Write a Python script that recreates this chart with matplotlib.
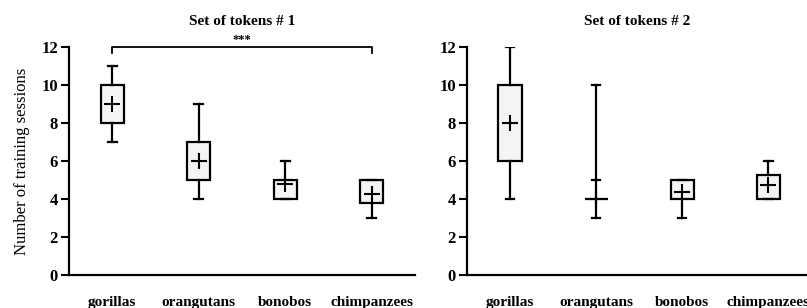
from matplotlib import pyplot as plt

species = ["gorillas", "orangutans", "bonobos", "chimpanzees"]

# set of tokens #1
lo1 = [7, 4, 4, 3]
q1_1 = [8, 5, 4, 3.78]
q3_1 = [10, 7, 5, 5]
hi1 = [11, 9, 6, 5]
mean1 = [9, 6, 4.8, 4.25]

# set of tokens #2
lo2 = [4, 3, 3, 4]
q1_2 = [6, 4, 4, 4]
q3_2 = [10, 4, 5, 5.27]
hi2 = [12, 10, 5, 6]
mean2 = [8, 4, 4.38, 4.73]
extra2 = [None, 5, None, None]

plt.rcParams['font.family'] = ['Liberation Serif', 'DejaVu Serif']

fig = plt.figure(figsize=(8.07, 3.08), dpi=100)
ax1 = fig.add_axes([0.0855, 0.107, 0.4288, 0.739])
ax2 = fig.add_axes([0.5787, 0.107, 0.4213, 0.739])


def draw(ax, lo, q1, q3, hi, mean, title, xmax):
    stats = []
    for i in range(len(species)):
        stats.append(dict(med=mean[i], q1=q1[i], q3=q3[i],
                          whislo=lo[i], whishi=hi[i], mean=mean[i],
                          fliers=[]))
    pos = list(range(1, len(species) + 1))
    ax.bxp(stats, positions=pos, widths=0.27, capwidths=0.1,
           showmeans=True, patch_artist=True,
           boxprops=dict(facecolor='#f4f4f4', edgecolor='black', linewidth=1.6),
           whiskerprops=dict(color='black', linewidth=1.6),
           capprops=dict(color='black', linewidth=1.6),
           medianprops=dict(visible=False),
           meanprops=dict(marker='+', markersize=11.5, markeredgecolor='black',
                          markeredgewidth=1.5))
    ax.set_xlim(0.5, xmax)
    ax.set_ylim(0, 12)
    ax.set_yticks(range(0, 13, 2))
    ax.set_xticks(pos)
    ax.set_xticklabels(species, fontweight='bold', fontsize=11)
    for lab in ax.get_yticklabels():
        lab.set_fontweight('bold')
        lab.set_fontsize(12)
    ax.tick_params(axis='x', length=0, pad=15)
    ax.tick_params(axis='y', length=6, width=1.5, direction='out', pad=2)
    for s in ['top', 'right']:
        ax.spines[s].set_visible(False)
    for s in ['left', 'bottom']:
        ax.spines[s].set_linewidth(1.6)
    ax.set_title(title, fontweight='bold', fontsize=11, pad=16)


draw(ax1, lo1, q1_1, q3_1, hi1, mean1, "Set of tokens # 1", 4.5)
draw(ax2, lo2, q1_2, q3_2, hi2, mean2, "Set of tokens # 2", 4.45)

for i, v in enumerate(extra2):
    if v is not None:
        ax2.plot([i + 1 - 0.05, i + 1 + 0.05], [v, v], color='black', lw=1.6)

ax1.set_ylabel("Number of training sessions", fontsize=12, labelpad=8)

# significance bracket gorillas vs chimpanzees
ax1.plot([1, 1, 4, 4], [11.7, 12, 12, 11.7], color='black', lw=1.3, clip_on=False)
ax1.text(2.5, 12.1, "***", ha='center', va='bottom', fontsize=9, fontweight='bold')

fig.savefig("out.png", dpi=100)
